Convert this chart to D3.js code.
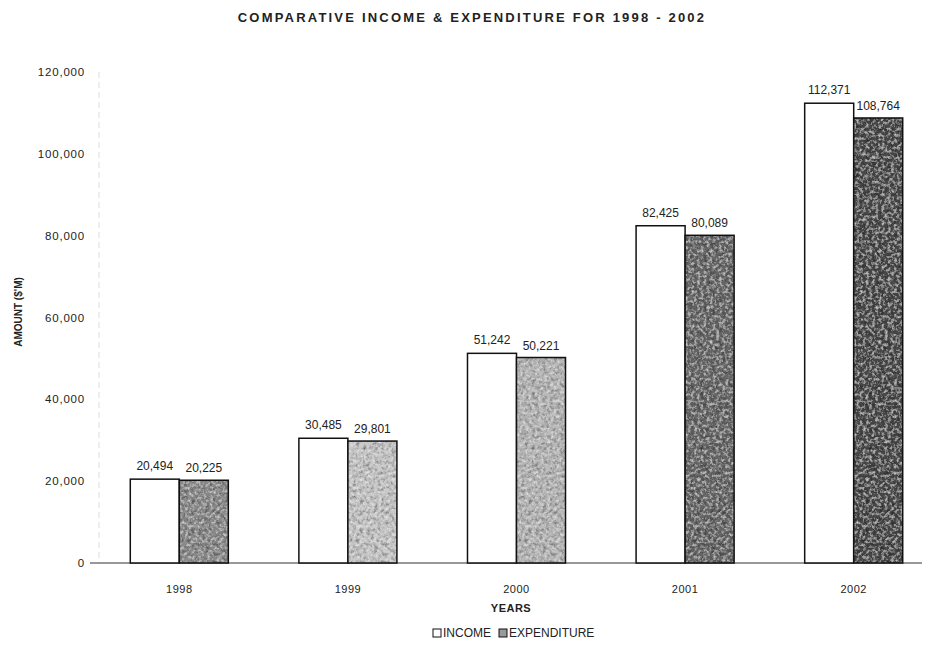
<!DOCTYPE html>
<html><head><meta charset="utf-8">
<script src="https://cdn.jsdelivr.net/npm/d3@7"></script>
<style>body{margin:0;background:#fff}svg{display:block}text{font-family:"Liberation Sans",Arial,sans-serif;fill:#222}</style>
</head><body><svg id="c" width="926" height="651"></svg>
<script>
const years = ["1998","1999","2000","2001","2002"];
const income = [20494,30485,51242,82425,112371];
const expenditure = [20225,29801,50221,80089,108764];
const yTicks = [0,20000,40000,60000,80000,100000,120000];
const expShade = ["#8a8a8a","#c8c8c8","#b8b8b8","#666666","#4a4a4a"];

const svg = d3.select("#c");
const defs = svg.append("defs");
const f = defs.append("filter").attr("id","noise").attr("x",0).attr("y",0).attr("width","100%").attr("height","100%");
f.append("feTurbulence").attr("type","fractalNoise").attr("baseFrequency","0.28").attr("numOctaves",3).attr("seed",5).attr("result","t");
f.append("feColorMatrix").attr("in","t").attr("type","matrix").attr("values","0 0 0 0 0  0 0 0 0 0  0 0 0 0 0  0 0 0 1.4 -0.55").attr("result","dk");
f.append("feComposite").attr("in","dk").attr("in2","SourceGraphic").attr("operator","in").attr("result","dkn");
f.append("feTurbulence").attr("type","fractalNoise").attr("baseFrequency","0.32").attr("numOctaves",3).attr("seed",11).attr("result","t2");
f.append("feColorMatrix").attr("in","t2").attr("type","matrix").attr("values","0 0 0 0 1  0 0 0 0 1  0 0 0 0 1  0 0 0 1.3 -0.6").attr("result","lt");
f.append("feComposite").attr("in","lt").attr("in2","SourceGraphic").attr("operator","in").attr("result","ltn");
f.append("feMerge").call(m=>{m.append("feMergeNode").attr("in","SourceGraphic");m.append("feMergeNode").attr("in","dkn");m.append("feMergeNode").attr("in","ltn");});

const x = d3.scaleBand().domain(years).range([95,938]).paddingInner(0).paddingOuter(0);
const sub = d3.scaleBand().domain(["inc","exp"]).range([0,x.bandwidth()]).paddingInner(0).paddingOuter(0.72);
const y = d3.scaleLinear().domain([0,120000]).range([563,72]);
const fmt = d3.format(",");

svg.append("line").attr("x1",99).attr("x2",99).attr("y1",y(120000)).attr("y2",y(0)).attr("stroke","#ddd").attr("stroke-dasharray","6,4");
svg.selectAll(".yt").data(yTicks).join("text").attr("x",85).attr("y",d=>y(d)+4).attr("text-anchor","end").attr("font-size",11.5).attr("letter-spacing","0.8").text(d=>fmt(d));

svg.append("line").attr("x1",90).attr("x2",922).attr("y1",y(0)).attr("y2",y(0)).attr("stroke","#333").attr("stroke-width",1);

const g = svg.selectAll(".yr").data(years).join("g").attr("transform",d=>`translate(${x(d)},0)`);
g.append("rect").attr("x",sub("inc")).attr("y",(d,i)=>y(income[i])).attr("width",sub.bandwidth()).attr("height",(d,i)=>y(0)-y(income[i])).attr("fill","#fff").attr("stroke","#111").attr("stroke-width",1.5);
g.append("rect").attr("x",sub("exp")).attr("y",(d,i)=>y(expenditure[i])).attr("width",sub.bandwidth()).attr("height",(d,i)=>y(0)-y(expenditure[i])).attr("fill",(d,i)=>expShade[i]).attr("filter","url(#noise)");
g.append("rect").attr("x",sub("exp")).attr("y",(d,i)=>y(expenditure[i])).attr("width",sub.bandwidth()).attr("height",(d,i)=>y(0)-y(expenditure[i])).attr("fill","none").attr("stroke","#111").attr("stroke-width",1.5);
g.append("text").attr("x",sub("inc")+sub.bandwidth()/2).attr("y",(d,i)=>y(income[i])-9).attr("text-anchor","middle").attr("font-size",12).text((d,i)=>fmt(income[i]));
g.append("text").attr("x",sub("exp")+sub.bandwidth()/2).attr("y",(d,i)=>y(expenditure[i])-8).attr("text-anchor","middle").attr("font-size",12).text((d,i)=>fmt(expenditure[i]));
g.append("text").attr("x",x.bandwidth()/2).attr("y",593).attr("text-anchor","middle").attr("font-size",11).attr("letter-spacing","0.5").text(d=>d);

svg.append("text").attr("x",472).attr("y",22).attr("text-anchor","middle").attr("font-size",13).attr("font-weight","bold").attr("letter-spacing","2.2").text("COMPARATIVE INCOME & EXPENDITURE FOR 1998 - 2002");
svg.append("text").attr("transform","translate(22,312) rotate(-90)").attr("text-anchor","middle").attr("font-size",10).attr("font-weight","bold").text("AMOUNT ($'M)");
svg.append("text").attr("x",511).attr("y",612).attr("text-anchor","middle").attr("font-size",11).attr("font-weight","bold").attr("letter-spacing","0.5").text("YEARS");

const lg = svg.append("g").attr("transform","translate(433,637)");
lg.append("rect").attr("x",0).attr("y",-8).attr("width",8).attr("height",8).attr("fill","#fff").attr("stroke","#111");
lg.append("text").attr("x",10).attr("y",0).attr("font-size",12).text("INCOME");
lg.append("rect").attr("x",66).attr("y",-8).attr("width",8).attr("height",8).attr("fill","#999").attr("stroke","#111");
lg.append("text").attr("x",76).attr("y",0).attr("font-size",12).text("EXPENDITURE");
</script></body></html>
